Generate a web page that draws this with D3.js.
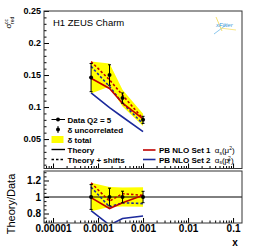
<!DOCTYPE html>
<html>
<head>
<meta charset="utf-8">
<script src="https://cdn.jsdelivr.net/npm/d3@7"></script>
<style>
  body { margin: 0; background: #fff; }
  svg { display: block; font-family: "Liberation Sans", Arial, sans-serif; }
  .tick text { font-weight: bold; fill: #000; }
</style>
</head>
<body>
<div id="wrapper"></div>
<script>
// data
const xVals = [0.00007, 0.00018, 0.00035, 0.001];
const sigma = [0.146, 0.150, 0.114, 0.080];
const errUnc = [0.022, 0.016, 0.008, 0.0055];
const errTot = [0.025, 0.018, 0.013, 0.0095];
const set1 = [0.145, 0.129, 0.106, 0.0816];
const set1Shift = [0.171, 0.1425, 0.1186, 0.0816];
const set2 = [0.122, 0.099, 0.0844, 0.0616];
const set2Shift = [0.1635, 0.132, 0.106, 0.0736];
const yTicks = [0.05, 0.1, 0.15, 0.2, 0.25];
const rTicks = [0.8, 1, 1.2];
const xTicks = [0.00001, 0.0001, 0.001, 0.01, 0.1];
const xLabels = ["0.00001", "0.0001", "0.001", "0.01", "0.1"];

const red = "#c00000", blue = "#1c2a9c", yellow = "#ffff00";

let dims = { width: 255, height: 248, left: 44, right: 242, top: 11, upBottom: 168.5, lowTop: 171, lowBottom: 223 };

const svg = d3.select("#wrapper").append("svg")
  .attr("width", dims.width).attr("height", dims.height);

const x = d3.scaleLog().domain([6.3e-6, 0.158]).range([dims.left, dims.right]);
const y = d3.scaleLinear().domain([0.004, 0.25]).range([dims.upBottom, dims.top]);
const r = d3.scaleLinear().domain([0.685, 1.315]).range([dims.lowBottom, dims.lowTop]);

const defs = svg.append("defs");
defs.append("clipPath").attr("id", "clipUp").append("rect")
  .attr("x", dims.left).attr("y", dims.top).attr("width", dims.right - dims.left).attr("height", dims.upBottom - dims.top);
defs.append("clipPath").attr("id", "clipLow").append("rect")
  .attr("x", dims.left).attr("y", dims.lowTop).attr("width", dims.right - dims.left).attr("height", dims.lowBottom - dims.lowTop);

const idx = d3.range(xVals.length);
const ratio = arr => arr.map((v, i) => v / sigma[i]);

function drawPanel(clipId, ys, vals) {
  const g = svg.append("g").attr("clip-path", `url(#${clipId})`);
  // total band
  const area = d3.area().x(i => x(xVals[i])).y0(i => ys(vals.lo[i])).y1(i => ys(vals.hi[i]));
  g.append("path").attr("d", area(idx)).attr("fill", yellow);
  if (vals.unity) {
    g.append("line").attr("x1", dims.left).attr("x2", dims.right)
      .attr("y1", ys(1)).attr("y2", ys(1)).attr("stroke", "#000").attr("stroke-width", 1);
  }
  const line = arr => d3.line().x((d, i) => x(xVals[i])).y(d => ys(d))(arr);
  g.append("path").attr("d", line(vals.s2)).attr("fill", "none").attr("stroke", blue).attr("stroke-width", 1.6);
  g.append("path").attr("d", line(vals.s2s)).attr("fill", "none").attr("stroke", blue).attr("stroke-width", 1.6).attr("stroke-dasharray", "2.5,2");
  g.append("path").attr("d", line(vals.s1)).attr("fill", "none").attr("stroke", red).attr("stroke-width", 1.6);
  g.append("path").attr("d", line(vals.s1s)).attr("fill", "none").attr("stroke", red).attr("stroke-width", 1.6).attr("stroke-dasharray", "2.5,2");
  // data points with uncorrelated errors
  idx.forEach(i => {
    const cx = x(xVals[i]);
    g.append("line").attr("x1", cx).attr("x2", cx)
      .attr("y1", ys(vals.c[i] - vals.e[i])).attr("y2", ys(vals.c[i] + vals.e[i]))
      .attr("stroke", "#000").attr("stroke-width", 1);
    [vals.c[i] - vals.e[i], vals.c[i] + vals.e[i]].forEach(v => {
      g.append("line").attr("x1", cx - 1.5).attr("x2", cx + 1.5).attr("y1", ys(v)).attr("y2", ys(v))
        .attr("stroke", "#000").attr("stroke-width", 1);
    });
    g.append("circle").attr("cx", cx).attr("cy", ys(vals.c[i])).attr("r", 2).attr("fill", "#000");
  });
}

drawPanel("clipUp", y, {
  lo: sigma.map((v, i) => v - errTot[i]), hi: sigma.map((v, i) => v + errTot[i]),
  s1: set1, s1s: set1Shift, s2: set2, s2s: set2Shift, c: sigma, e: errUnc
});
drawPanel("clipLow", r, {
  lo: sigma.map((v, i) => 1 - errTot[i] / v), hi: sigma.map((v, i) => 1 + errTot[i] / v),
  s1: ratio(set1), s1s: ratio(set1Shift), s2: ratio(set2), s2s: ratio(set2Shift),
  c: sigma.map(() => 1), e: sigma.map((v, i) => errUnc[i] / v), unity: true
});

// axes (ticks inside, ROOT style)
function clean(sel) { sel.select(".domain").remove(); sel.selectAll(".tick line").attr("stroke", "#000"); }

const minorX = [];
for (let e = -6; e <= -1; e++) for (let m = 2; m <= 9; m++) {
  const v = m * Math.pow(10, e);
  if (v > 6.3e-6 && v < 0.158) minorX.push(v);
}

// upper panel
svg.append("g").attr("transform", `translate(${dims.left},0)`)
  .call(d3.axisLeft(y).tickValues(yTicks).tickSize(-5).tickPadding(3).tickFormat(d3.format("~g")))
  .call(clean).selectAll("text").style("font-size", "9px");
svg.append("g").attr("transform", `translate(${dims.left},0)`)
  .call(d3.axisLeft(y).tickValues(d3.range(0.01, 0.25, 0.01)).tickSize(-2.5).tickFormat(""))
  .call(clean);
svg.append("g").attr("transform", `translate(0,${dims.upBottom})`)
  .call(d3.axisBottom(x).tickValues(xTicks).tickSize(-5).tickFormat(""))
  .call(clean);
svg.append("g").attr("transform", `translate(0,${dims.upBottom})`)
  .call(d3.axisBottom(x).tickValues(minorX).tickSize(-2.5).tickFormat(""))
  .call(clean);

// lower panel
svg.append("g").attr("transform", `translate(${dims.left},0)`)
  .call(d3.axisLeft(r).tickValues(rTicks).tickSize(-5).tickPadding(3).tickFormat(d3.format("~g")))
  .call(clean).selectAll("text").style("font-size", "10px");
svg.append("g").attr("transform", `translate(${dims.left},0)`)
  .call(d3.axisLeft(r).tickValues([0.7, 0.75, 0.85, 0.9, 0.95, 1.05, 1.1, 1.15, 1.25, 1.3]).tickSize(-2.5).tickFormat(""))
  .call(clean);
svg.append("g").attr("transform", `translate(0,${dims.lowBottom})`)
  .call(d3.axisBottom(x).tickValues(xTicks).tickSize(-5).tickPadding(2).tickFormat((d, i) => xLabels[i]))
  .call(clean).selectAll("text").style("font-size", "10px");
svg.append("g").attr("transform", `translate(0,${dims.lowBottom})`)
  .call(d3.axisBottom(x).tickValues(minorX).tickSize(-2.5).tickFormat(""))
  .call(clean);

// frames
svg.append("rect").attr("x", dims.left).attr("y", dims.top)
  .attr("width", dims.right - dims.left).attr("height", dims.upBottom - dims.top)
  .attr("fill", "none").attr("stroke", "#333").attr("stroke-width", 1);
svg.append("rect").attr("x", dims.left).attr("y", dims.lowTop)
  .attr("width", dims.right - dims.left).attr("height", dims.lowBottom - dims.lowTop)
  .attr("fill", "none").attr("stroke", "#333").attr("stroke-width", 1);

// titles
svg.append("text").attr("x", 53).attr("y", 26).style("font-size", "9.5px").text("H1 ZEUS Charm");
svg.append("text").attr("x", 235).attr("y", 246).attr("text-anchor", "middle")
  .style("font-size", "10px").style("font-weight", "bold").text("x");
svg.append("text").attr("transform", "translate(15,204) rotate(-90)").attr("text-anchor", "middle")
  .style("font-size", "11px").text("Theory/Data");
const yt = svg.append("g").attr("transform", "translate(11,28.5) rotate(-90)");
yt.append("text").attr("x", 0).attr("y", 0).style("font-size", "8px").text("σ");
yt.append("text").attr("x", 4.5).attr("y", -3).style("font-size", "5px").text("cc");
yt.append("text").attr("x", 4.5).attr("y", 2.5).style("font-size", "5px").text("red");

// xFitter logo
const logo = svg.append("g");
logo.append("line").attr("x1", 216).attr("y1", 17).attr("x2", 222).attr("y2", 31).attr("stroke", "#f5e070").attr("stroke-width", 1);
logo.append("line").attr("x1", 214).attr("y1", 34).attr("x2", 226).attr("y2", 25).attr("stroke", "#8cc8ee").attr("stroke-width", 1);
logo.append("line").attr("x1", 220).attr("y1", 28).attr("x2", 236).attr("y2", 30).attr("stroke", "#f5e070").attr("stroke-width", 0.8);
logo.append("text").attr("x", 216).attr("y", 27).style("font-size", "6px").style("font-style", "italic")
  .attr("fill", "#3a9ad9").text("xFitter");

// left legend
const legL = svg.append("g").style("font-size", "8px").style("font-weight", "bold");
const rows = ["Data Q2 = 5", "δ uncorrelated", "δ total", "Theory", "Theory + shifts"];
rows.forEach((t, i) => {
  const cy = 119.5 + i * 10;
  legL.append("text").attr("x", 67.5).attr("y", cy + 3).text(t);
  if (i === 0) {
    legL.append("line").attr("x1", 51.5).attr("x2", 65).attr("y1", cy).attr("y2", cy).attr("stroke", "#000");
    legL.append("circle").attr("cx", 58).attr("cy", cy).attr("r", 2).attr("fill", "#000");
  } else if (i === 1) {
    legL.append("line").attr("x1", 58).attr("x2", 58).attr("y1", cy - 3.5).attr("y2", cy + 3.5).attr("stroke", "#000");
    legL.append("circle").attr("cx", 58).attr("cy", cy).attr("r", 2).attr("fill", "#000");
  } else if (i === 2) {
    legL.append("rect").attr("x", 51.5).attr("y", cy - 3.5).attr("width", 12).attr("height", 7).attr("fill", yellow);
  } else {
    legL.append("line").attr("x1", 51.5).attr("x2", 65).attr("y1", cy).attr("y2", cy)
      .attr("stroke", "#000").attr("stroke-width", 1.4).attr("stroke-dasharray", i === 4 ? "2.5,2" : null);
  }
});

// right legend
const legR = svg.append("g").style("font-size", "8px");
[["PB NLO Set 1", red, "μ"], ["PB NLO Set 2", blue, "p"]].forEach((d, i) => {
  const cy = 150 + i * 9.5;
  legR.append("line").attr("x1", 143).attr("x2", 155.5).attr("y1", cy).attr("y2", cy)
    .attr("stroke", d[1]).attr("stroke-width", 1.6);
  const t = legR.append("text").attr("x", 159).attr("y", cy + 3);
  t.append("tspan").style("font-weight", "bold").text(d[0] + " ");
  t.append("tspan").attr("dx", 2).text("α");
  t.append("tspan").attr("dy", 1.5).style("font-size", "5px").text("s");
  t.append("tspan").attr("dy", -1.5).text("(" + d[2]);
  if (i === 1) {
    t.append("tspan").attr("dy", 1.5).attr("dx", -1.5).style("font-size", "5px").text("T");
    t.append("tspan").attr("dy", -4.5).attr("dx", -2.5).style("font-size", "5px").text("2");
    t.append("tspan").attr("dy", 3).text(")");
  } else {
    t.append("tspan").attr("dy", -3).style("font-size", "5px").text("2");
    t.append("tspan").attr("dy", 3).text(")");
  }
});
</script>
</body>
</html>
